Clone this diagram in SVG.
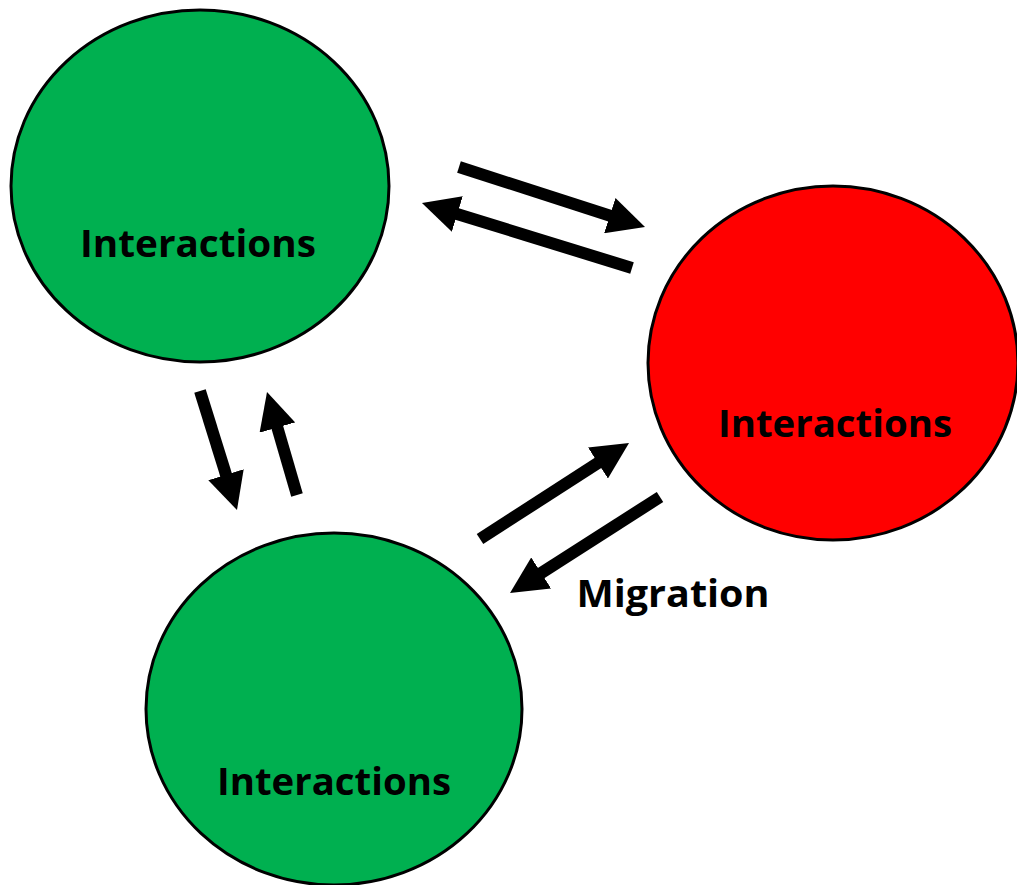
<svg xmlns="http://www.w3.org/2000/svg" width="1017" height="885" viewBox="0 0 1017 885">
<style>
.node{stroke:#000;stroke-width:3}
.green{fill:#00B050}
.red{fill:#FF0000}
.lbl{font-family:"Open Sans","Liberation Sans",sans-serif;font-weight:bold;font-size:38px;fill:#000;text-anchor:middle}
.arr{stroke:#000;stroke-width:12;fill:none;marker-end:url(#ah)}
</style>
<defs>
<marker id="ah" markerUnits="userSpaceOnUse" viewBox="0 0 37 37" refX="2" refY="18.5" markerWidth="37" markerHeight="37" orient="auto">
<path d="M0,0 L37,18.5 L0,37 z" fill="#000"/>
</marker>
</defs>
<rect width="1017" height="885" fill="#fff"/>
<g id="node-top-left">
<ellipse class="node green" cx="200" cy="186" rx="189" ry="176"/>
<text class="lbl" x="198" y="257" textLength="236" lengthAdjust="spacingAndGlyphs">Interactions</text>
</g>
<g id="node-right">
<ellipse class="node red" cx="833" cy="363" rx="185" ry="177"/>
<text class="lbl" x="835" y="437" textLength="234" lengthAdjust="spacingAndGlyphs">Interactions</text>
</g>
<g id="node-bottom">
<ellipse class="node green" cx="334" cy="709" rx="188" ry="176"/>
<text class="lbl" x="334" y="795" textLength="234" lengthAdjust="spacingAndGlyphs">Interactions</text>
</g>
<g id="connectors">
<line class="arr" x1="459" y1="167" x2="611.7" y2="216.3"/>
<line class="arr" x1="632" y1="268" x2="455.4" y2="213.4"/>
<line class="arr" x1="200" y1="391" x2="226.6" y2="476.6"/>
<line class="arr" x1="297" y1="495" x2="276.8" y2="425.6"/>
<line class="arr" x1="480" y1="539" x2="599.6" y2="461.9"/>
<line class="arr" x1="660" y1="497" x2="539.5" y2="574.1"/>
<text class="lbl" x="673" y="607" textLength="193" lengthAdjust="spacingAndGlyphs">Migration</text>
</g>
</svg>
